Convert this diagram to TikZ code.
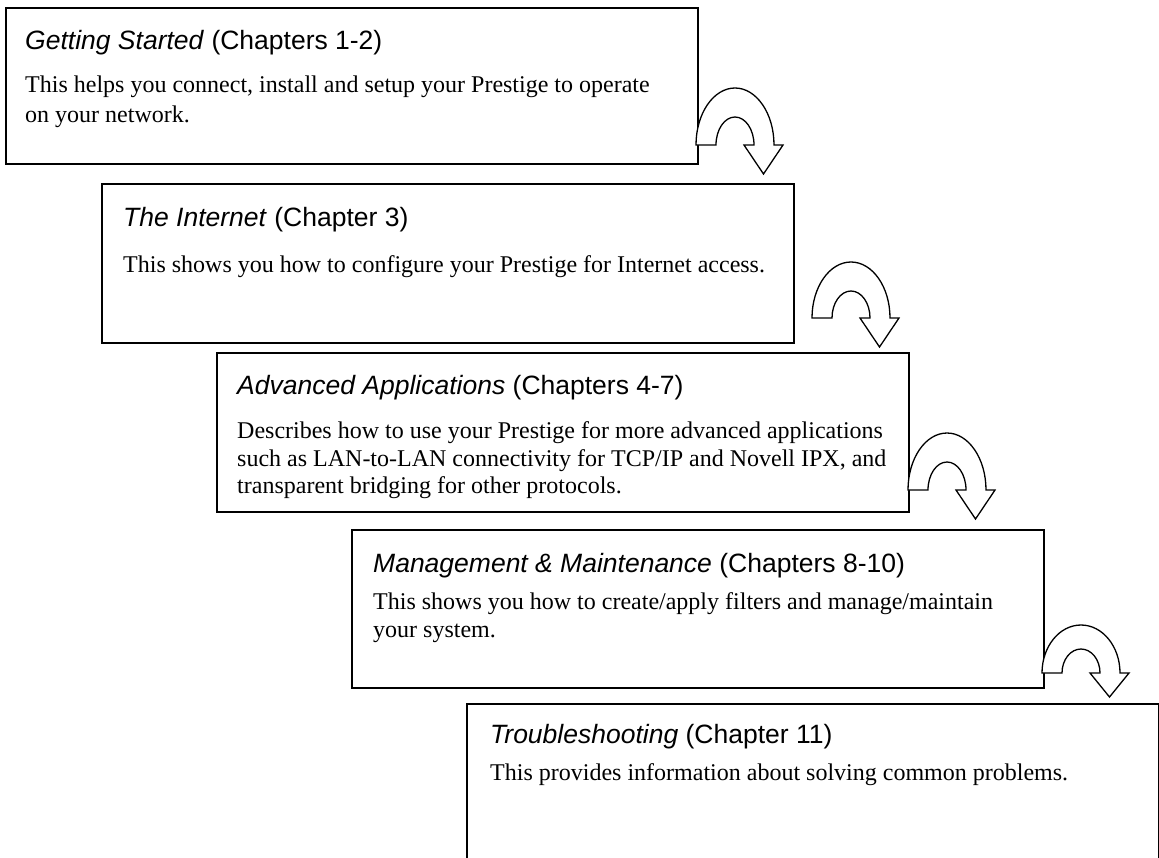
\documentclass[tikz,border=0pt]{standalone}
\usepackage{fontspec}
\setmainfont{Liberation Serif}
\setsansfont{Liberation Sans}
\tikzset{
  chapbox/.style={draw=black, line width=1.8pt, fill=white, rectangle, inner sep=0pt,
    anchor=north west, minimum width=692pt},
  titletxt/.style={anchor=base west, inner sep=0pt,
    font=\sffamily\fontsize{26.5}{30}\selectfont},
  bodytxt/.style={anchor=base west, inner sep=0pt,
    font=\rmfamily\fontsize{24}{28}\selectfont},
  uturnstyle/.style={draw=black, line width=1.3pt, fill=white, line join=miter}
}
% #1 left foot x, #2 base y, #3 outer height, #4 inner height, #5 head depth
\newcommand\myuturn[5]{%
  \path[uturnstyle] (#1,#2) arc[start angle=180, end angle=360, x radius=39, y radius=#3]
    -- ++(9,0) -- ++(-19.5,#5) -- ++(-19.5,-#5) -- ++(10,0)
    arc[start angle=0, end angle=-180, x radius=19, y radius=#4] -- cycle;}
\begin{document}
\begin{tikzpicture}[x=1pt,y=-1pt]
\useasboundingbox (0,0) rectangle (1159,857);
\clip (0,0) rectangle (1159,857);
\fill[white] (0,0) rectangle (1159,857);

% boxes
\node[chapbox, minimum height=156pt] (b1) at (5,7) {};
\node[chapbox, minimum height=159pt] (b2) at (101,183) {};
\node[chapbox, minimum height=159pt] (b3) at (216,352) {};
\node[chapbox, minimum height=158pt] (b4) at (351,529) {};
\node[chapbox, minimum height=200pt, minimum width=692pt] (b5) at (466,703) {};

% arrows
\myuturn{696}{145}{57}{28}{29}
\myuturn{812}{318}{56}{27}{29}
\myuturn{908}{490}{57}{28}{29}
\myuturn{1042}{673}{48}{24}{24}

% texts box 1
\node[titletxt] (t1) at (25,49) {\textit{Getting Started} (Chapters 1-2)};
\node[bodytxt] (t1a) at (25,92) {This helps you connect, install and setup your Prestige to operate};
\node[bodytxt] (t1b) at (25,122) {on your network.};
% box 2
\node[titletxt] (t2) at (123,226) {\textit{The Internet} (Chapter 3)};
\node[bodytxt] (t2a) at (123,272) {This shows you how to configure your Prestige for Internet access.};
% box 3
\node[titletxt] (t3) at (237,394) {\textit{Advanced Applications} (Chapters 4-7)};
\node[bodytxt] (t3a) at (237,438) {Describes how to use your Prestige for more advanced applications};
\node[bodytxt] (t3b) at (237,466) {such as LAN-to-LAN connectivity for TCP/IP and Novell IPX, and};
\node[bodytxt] (t3c) at (237,493) {transparent bridging for other protocols.};
% box 4
\node[titletxt] (t4) at (373,572) {\textit{Management \& Maintenance} (Chapters 8-10)};
\node[bodytxt] (t4a) at (373,609) {This shows you how to create/apply filters and manage/maintain};
\node[bodytxt] (t4b) at (373,637) {your system.};
% box 5
\node[titletxt] (t5) at (490,743) {\textit{Troubleshooting} (Chapter 11)};
\node[bodytxt] (t5a) at (490,780) {This provides information about solving common problems.};
\end{tikzpicture}
\end{document}
